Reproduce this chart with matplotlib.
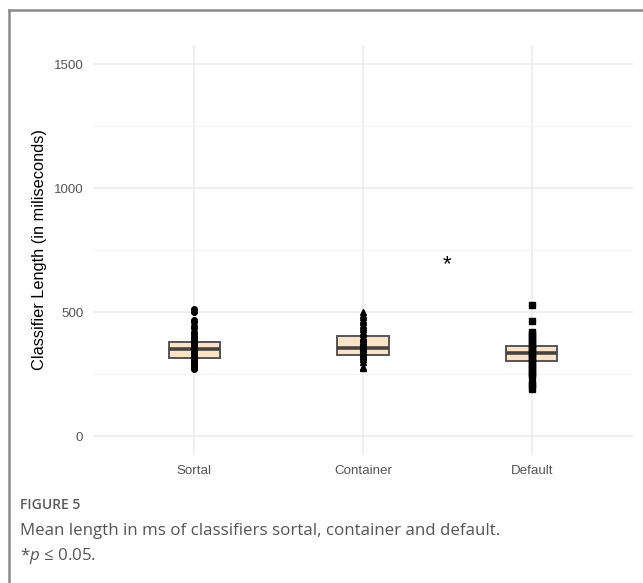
import matplotlib.pyplot as plt
from matplotlib.lines import Line2D

plt.rcParams["font.family"] = ["Liberation Sans", "DejaVu Sans"]
plt.rcParams["mathtext.fontset"] = "custom"
plt.rcParams["mathtext.it"] = "Open Sans:italic"
plt.rcParams["mathtext.rm"] = "Open Sans"

# classifier length (ms) per classifier type
groups = ["Sortal", "Container", "Default"]
markers = ["o", "^", "s"]

sortal_ms = [512, 500, 470, 460, 445, 435, 420, 410, 400, 395, 390, 385, 380,
             375, 370, 365, 360, 355, 350, 345, 340, 335, 330, 325, 320, 315,
             310, 305, 300, 295, 290, 285, 280, 275, 270]
container_ms = [500, 490, 480, 470, 460, 450, 440, 430, 420, 410, 400, 395,
                390, 385, 380, 375, 370, 365, 360, 355, 350, 345, 340, 335,
                330, 325, 320, 310, 300, 280, 275]
default_ms = [528, 464, 420, 410, 400, 390, 380, 370, 360, 350, 340, 330, 320,
              310, 300, 290, 280, 270, 260, 250, 242, 214, 206, 190]

q1 = [315, 327, 302]
median = [351, 355, 335]
q3 = [379, 403, 363]

sig_x = 2.5
sig_y = 690
sig_label = "*"

yticks = [0, 500, 1000, 1500]

W, H = 643, 583
fig = plt.figure(figsize=(W / 100, H / 100), dpi=100)
fig.patch.set_facecolor("white")

ax = fig.add_axes([93 / W, 1 - 455 / H, 540 / W, 410 / H])
ax.set_facecolor("white")

stats = []
for i, g in enumerate(groups):
    stats.append(dict(label=g, q1=q1[i], med=median[i], q3=q3[i],
                      whislo=q1[i], whishi=q3[i], fliers=[]))
ax.bxp(stats, positions=[1, 2, 3], widths=0.305, patch_artist=True,
       showcaps=False, showfliers=False, zorder=3,
       boxprops=dict(facecolor="#fde3c5", edgecolor="#555555", linewidth=1.4),
       whiskerprops=dict(linewidth=0),
       medianprops=dict(color="#444444", linewidth=2.6, solid_capstyle="butt"))

for i, vals in enumerate([sortal_ms, container_ms, default_ms]):
    ax.plot([i + 1] * len(vals), vals, linestyle="none", marker=markers[i],
            markersize=4.0, color="black", zorder=4)

ax.text(sig_x, sig_y, sig_label, ha="center", va="center", fontsize=16,
        color="black")

ax.set_xlim(0.4, 3.6)
ax.set_ylim(-76, 1577)
ax.set_xticks([1, 2, 3])
ax.set_xticklabels(groups)
ax.set_yticks(yticks)
ax.set_yticks([250, 750, 1250], minor=True)
ax.grid(True, which="major", color="#ebebeb", linewidth=1.1, zorder=0)
ax.grid(True, which="minor", axis="y", color="#f3f3f3", linewidth=0.8, zorder=0)
ax.set_axisbelow(True)
for s in ax.spines.values():
    s.set_visible(False)
ax.tick_params(which="both", length=0, pad=7, labelsize=9.6,
               labelcolor="#555555")
ax.set_ylabel("Classifier Length (in miliseconds)", fontsize=11.8,
              color="black", labelpad=5)

# frame around the figure panel
fig.add_artist(Line2D([9 / W, 1], [1 - 10 / H, 1 - 10 / H], color="#8a8a8a",
                      linewidth=1.8))
fig.add_artist(Line2D([9 / W, 9 / W], [0, 1 - 10 / H], color="#8a8a8a",
                      linewidth=1.8))

fig.text(20 / W, 1 - 505 / H, "FIGURE 5", fontsize=10, color="#5a5a5a",
         family="Open Sans", weight="semibold", va="center")
fig.text(20 / W, 1 - 531 / H,
         "Mean length in ms of classifiers sortal, container and default.",
         fontsize=12.2, color="#555555", family="Open Sans", va="center")
fig.text(20 / W, 1 - 556 / H, "*$p$ \u2264 0.05.", fontsize=12.2,
         color="#555555", family="Open Sans", va="center")

fig.savefig("out.png", dpi=100)
